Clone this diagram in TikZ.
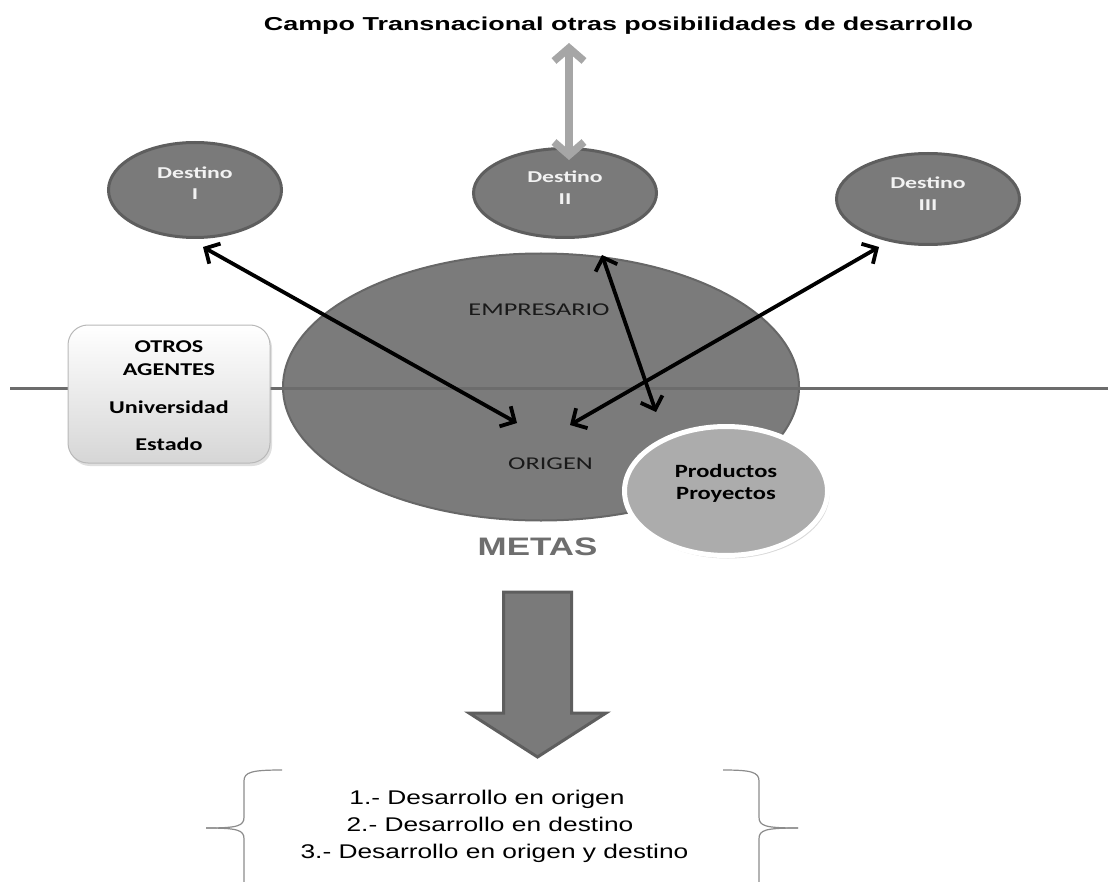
\documentclass[tikz,border=0pt]{standalone}
\usepackage{fontspec}
\newfontfamily\ftitle[FakeStretch=1.44]{Liberation Sans}
\newfontfamily\fdest[FakeStretch=1.43]{Carlito}
\newfontfamily\fotros[FakeStretch=1.34]{Carlito}
\newfontfamily\femp[FakeStretch=1.46]{Carlito}
\newfontfamily\fprod[FakeStretch=1.31]{Carlito}
\newfontfamily\fmetas[FakeStretch=1.38]{Liberation Sans}
\newfontfamily\flist[FakeStretch=1.33]{Liberation Sans}
\usetikzlibrary{arrows.meta,shapes.geometric,shadows}
\definecolor{ellfill}{HTML}{7A7A7A}
\definecolor{ellline}{HTML}{5E5E5E}
\definecolor{bigfill}{HTML}{7B7B7B}
\definecolor{bigline}{HTML}{676767}
\definecolor{hline}{HTML}{6C6C6C}
\definecolor{boxline}{HTML}{B8B8B8}
\definecolor{boxbot}{HTML}{D6D6D6}
\definecolor{prodfill}{HTML}{ACACAC}
\definecolor{garrow}{HTML}{A6A6A6}
\definecolor{metasc}{HTML}{6E6E6E}
\definecolor{bracec}{HTML}{8C8C8C}
\definecolor{destxt}{HTML}{F2F2F2}
\begin{document}
\begin{tikzpicture}[x=1pt,y=-1pt,
  dest/.style={ellipse, fill=ellfill, draw=ellline, line width=3pt, inner sep=0pt},
  bigell/.style={ellipse, fill=bigfill, draw=bigline, line width=2pt, inner sep=0pt},
  prodell/.style={ellipse, fill=prodfill, draw=white, line width=5pt, inner sep=0pt,
    drop shadow={shadow xshift=2pt, shadow yshift=-3pt, opacity=0.3}},
  otrosbox/.style={rectangle, rounded corners=20pt, top color=white, bottom color=boxbot,
    draw=boxline, line width=1pt, inner sep=0pt,
    drop shadow={shadow xshift=2pt, shadow yshift=-3pt, opacity=0.25}},
  txt/.style={anchor=base, inner sep=0pt},
  desttxt/.style={txt, text=destxt, font=\fdest\bfseries\fontsize{16.6}{19}\selectfont},
  otrostxt/.style={txt, text=black, font=\fotros\bfseries\fontsize{18}{21}\selectfont},
  emptxt/.style={txt, text=black!90, font=\femp\fontsize{18}{21}\selectfont},
  prodtxt/.style={txt, text=black, font=\fprod\bfseries\fontsize{18.7}{21}\selectfont},
  listtxt/.style={txt, text=black, font=\flist\fontsize{19.8}{23}\selectfont},
  link/.style={line width=3.8pt, {Straight Barb[length=11pt,width=23pt]}-{Straight Barb[length=11pt,width=23pt]}},
  glink/.style={draw=garrow, line width=7.5pt, {Straight Barb[length=13pt,width=30pt]}-{Straight Barb[length=13pt,width=30pt]}},
  bracepath/.style={draw=bracec, line width=1.2pt},
]
\useasboundingbox (0,0) rectangle (1110,882);

% big central ellipse
\node[bigell, minimum width=516pt, minimum height=267pt] (emp) at (541,387) {};

% horizontal line
\coordinate (hl1) at (10,388);
\coordinate (hl2) at (1108,388);
\draw[hline, line width=3pt] (hl1) -- (hl2);

% other agents box
\node[otrosbox, minimum width=202pt, minimum height=138pt] (otros) at (169,394) {};
\node[otrostxt] (ot1) at (169,352.7) {OTROS};
\node[otrostxt] (ot2) at (169,375.4) {AGENTES};
\node[otrostxt] (ot3) at (169,413.3) {Universidad};
\node[otrostxt] (ot4) at (169,450.7) {Estado};

% products
\node[prodell, minimum width=203pt, minimum height=129pt] (prod) at (726,491) {};
\node[prodtxt] (pr1) at (726,477) {Productos};
\node[prodtxt] (pr2) at (726,499.5) {Proyectos};

% destinations
\node[dest, minimum width=173pt, minimum height=95pt] (d1) at (195,190) {};
\node[dest, minimum width=183pt, minimum height=89pt] (d2) at (565,193) {};
\node[dest, minimum width=183pt, minimum height=91pt] (d3) at (928,199) {};
\node[desttxt] (d1a) at (195,178.3) {Destino};
\node[desttxt] (d1b) at (195,199.5) {I};
\node[desttxt] (d2a) at (565,183) {Destino};
\node[desttxt] (d2b) at (565,205) {II};
\node[desttxt] (d3a) at (928,189) {Destino};
\node[desttxt] (d3b) at (928,211) {III};

% labels inside big ellipse
\node[emptxt] (empt) at (539,316) {EMPRESARIO};
\node[emptxt] (orig) at (550.5,469) {ORIGEN};

% black double arrows
\coordinate (a1a) at (203,247);
\coordinate (a1b) at (517,423);
\coordinate (a2a) at (602,255);
\coordinate (a2b) at (656,412);
\coordinate (a3a) at (879,247);
\coordinate (a3b) at (570,425);
\draw[link] (a1a) -- (a1b);
\draw[link] (a2a) -- (a2b);
\draw[link] (a3a) -- (a3b);

% title and gray arrow
\node[txt, font=\ftitle\bfseries\fontsize{18.7}{22}\selectfont] (title) at (618.5,31)
  {Campo Transnacional otras posibilidades de desarrollo};
\coordinate (g1) at (569,43);
\coordinate (g2) at (569,160);
\draw[glink] (g1) -- (g2);

% METAS
\node[txt, text=metasc, font=\fmetas\bfseries\fontsize{25.3}{30}\selectfont] (metas) at (537.5,555) {METAS};

% big down arrow
\draw[fill=ellfill, draw=ellline, line width=3pt, line join=miter]
  (503.5,592) -- (571.5,592) -- (571.5,713) -- (606,713) -- (537.5,757)
  -- (469,713) -- (503.5,713) -- cycle;

% braces
\draw[bracepath] (282,770) .. controls (252,770) and (244,772) .. (244,781) -- (244,817)
  .. controls (244,826) and (238,828) .. (206,828);
\draw[bracepath] (206,828) .. controls (238,828) and (244,830) .. (244,839) -- (244,882);
\draw[bracepath] (723,770) .. controls (751,770) and (759,772) .. (759,781) -- (759,817)
  .. controls (759,826) and (765,828) .. (798,828);
\draw[bracepath] (798,828) .. controls (765,828) and (759,830) .. (759,839) -- (759,882);

% list
\node[listtxt] (l1) at (487,804) {1.- Desarrollo en origen};
\node[listtxt] (l2) at (490,831) {2.- Desarrollo en destino};
\node[listtxt] (l3) at (494.5,858) {3.- Desarrollo en origen y destino};
\end{tikzpicture}
\end{document}
